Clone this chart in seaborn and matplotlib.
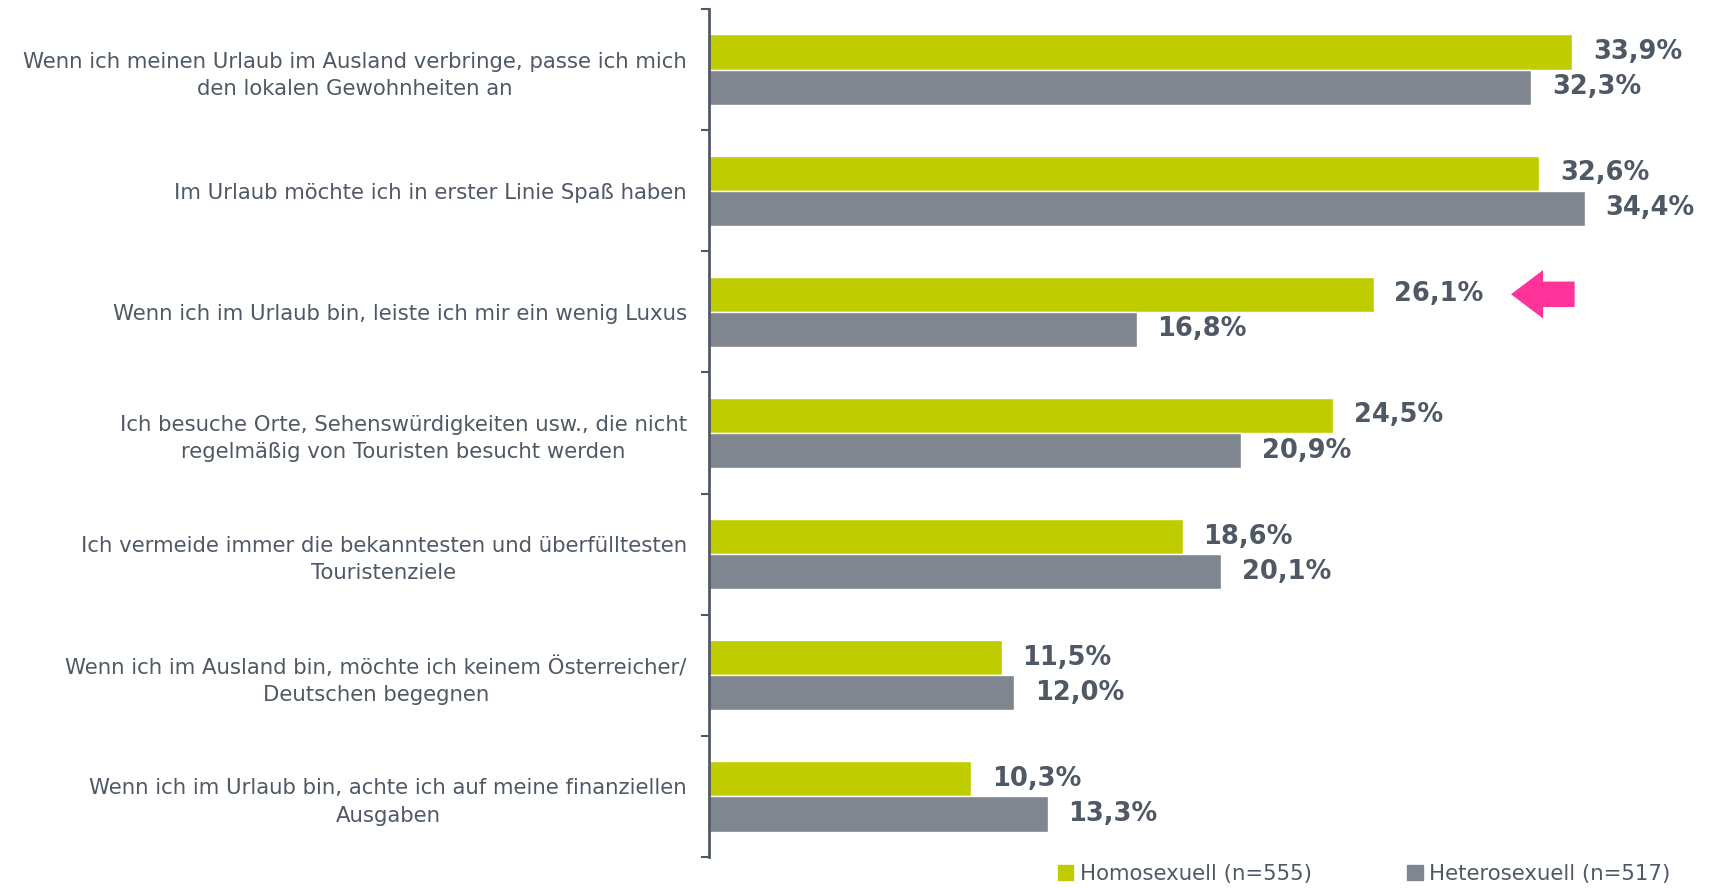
import pandas as pd
import seaborn as sns
import matplotlib.pyplot as plt
from matplotlib.patches import Patch

# statements (y axis), two groups, shares in percent
categories = [
    "Wenn ich meinen Urlaub im Ausland verbringe, passe ich mich\nden lokalen Gewohnheiten an",
    "Im Urlaub möchte ich in erster Linie Spaß haben",
    "Wenn ich im Urlaub bin, leiste ich mir ein wenig Luxus",
    "Ich besuche Orte, Sehenswürdigkeiten usw., die nicht\nregelmäßig von Touristen besucht werden",
    "Ich vermeide immer die bekanntesten und überfülltesten\nTouristenziele",
    "Wenn ich im Ausland bin, möchte ich keinem Österreicher/\nDeutschen begegnen",
    "Wenn ich im Urlaub bin, achte ich auf meine finanziellen\nAusgaben",
]
groups = ["Homosexuell (n=555)", "Heterosexuell (n=517)"]
homo = [33.9, 32.6, 26.1, 24.5, 18.6, 11.5, 10.3]
hetero = [32.3, 34.4, 16.8, 20.9, 20.1, 12.0, 13.3]

df = pd.DataFrame({
    "Aussage": categories * 2,
    "Gruppe": [groups[0]] * len(homo) + [groups[1]] * len(hetero),
    "Anteil": homo + hetero,
})

green = "#bfcd00"
grey = "#80868f"
text_col = "#4f5966"

sns.set_style("white")
plt.rcParams["font.family"] = ["DejaVu Sans"]

fig = plt.figure(figsize=(17.1, 8.88), dpi=100)
ax = fig.add_axes([0.4146, 0.0349, 0.5795, 0.955])

sns.barplot(data=df, y="Aussage", x="Anteil", hue="Gruppe", orient="h",
            palette=[green, grey], width=0.58, ax=ax, legend=False,
            saturation=1)

ax.set_xlim(0, 38.92)
ax.set_ylim(len(categories) - 0.5, -0.5)
ax.set_xlabel("")
ax.set_ylabel("")
ax.set_xticks([])

for c in ax.containers:
    ax.bar_label(c, labels=[f"{v:.1f}%".replace(".", ",") for v in c.datavalues],
                 padding=15, fontsize=18.5, fontweight="bold", color=text_col)

# axis line and ticks between categories
for s in ["top", "right", "bottom"]:
    ax.spines[s].set_visible(False)
ax.spines["left"].set_color(text_col)
ax.spines["left"].set_linewidth(2)
ax.set_yticks(range(len(categories)))
ax.set_yticklabels(categories, fontsize=15.3, color=text_col,
                   multialignment="center", linespacing=1.45)
ax.tick_params(axis="y", which="major", length=0, pad=16)
ax.set_yticks([i - 0.5 for i in range(len(categories) + 1)], minor=True)
ax.tick_params(axis="y", which="minor", left=True, length=6, width=1.5,
               color=text_col, direction="out")

# pink arrow pointing at the Luxus row
ax.arrow(34.0, 2 - 0.145, -2.5, 0, width=0.21, head_width=0.40,
         head_length=1.26, length_includes_head=True, color="#ff3399", lw=0)

handles = [Patch(color=green), Patch(color=grey)]
fig.legend(handles, groups, loc="center left", bbox_to_anchor=(0.6125, 0.016),
           ncol=2, frameon=False, fontsize=15.3, labelcolor=text_col,
           handlelength=0.72, handleheight=0.72, handletextpad=0.3,
           columnspacing=4.5, borderpad=0)

fig.savefig("out.png", dpi=100)
